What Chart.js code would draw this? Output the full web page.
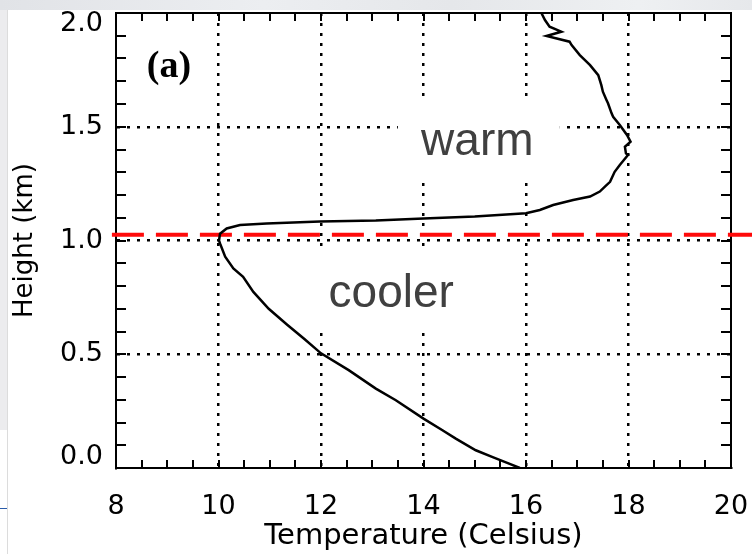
<!DOCTYPE html>
<html>
<head>
<meta charset="utf-8">
<title>Temperature profile</title>
<script src="https://cdn.jsdelivr.net/npm/chart.js@4.4.0/dist/chart.umd.min.js"></script>
<style>
  body { margin: 0; background: #fff; }
  #wrap { position: relative; width: 752px; height: 554px; overflow: hidden; }
  #topStrip { position: absolute; left: 0; top: 0; width: 752px; height: 10px;
    background: linear-gradient(90deg, #e1e3e7 0%, #eceef1 35%, #e5e7ea 60%, #eef0f2 85%, #e6e8eb 100%); }
  #sideStrip { position: absolute; left: 0; top: 10px; width: 7px; height: 420px; background: #ececee; }
  #sideRule { position: absolute; left: 7px; top: 10px; width: 1px; height: 544px; background: #dcdcdc; }
  #blueRule { position: absolute; left: 0; top: 508px; width: 7px; height: 1px; background: #2a5caa; }
  canvas { position: absolute; left: 0; top: 0; }
</style>
</head>
<body>
<div id="wrap">
  <div id="topStrip"></div>
  <div id="sideStrip"></div>
  <div id="sideRule"></div>
  <div id="blueRule"></div>
  <canvas id="profile" width="752" height="554"></canvas>
</div>
<script>
// sounding: temperature (deg C) against height (km), bottom to top
const tempC = [15.88, 15.67, 15.35, 15.02, 14.63, 14.37, 14.0, 13.46, 13.07, 12.54,
    12.0, 11.67, 11.34, 10.98, 10.68, 10.48, 10.29, 10.13, 10.03, 10.01, 10.03,
    10.16, 10.42, 10.94, 11.98, 13.07, 14.0, 15.0, 16.0, 16.27, 16.53,
    16.92, 17.25, 17.44, 17.54, 17.64, 17.73, 17.83, 17.99, 17.95, 17.93,
    18.04, 17.97, 17.83, 17.70, 17.67, 17.60, 17.57, 17.50, 17.47, 17.41,
    17.25, 17.05, 16.89, 16.85, 16.40, 16.69, 16.46, 16.37, 16.30];
const heightKm = [0.0, 0.019, 0.048, 0.078, 0.129, 0.166, 0.217, 0.298, 0.349, 0.43,
    0.504, 0.568, 0.63, 0.70, 0.774, 0.84, 0.877, 0.929, 0.987, 1.0, 1.03,
    1.053, 1.068, 1.075, 1.083, 1.088, 1.097, 1.105, 1.12, 1.134, 1.156,
    1.178, 1.193, 1.215, 1.237, 1.258, 1.302, 1.332, 1.376, 1.383, 1.412,
    1.434, 1.464, 1.508, 1.544, 1.559, 1.603, 1.618, 1.654, 1.683, 1.727,
    1.771, 1.815, 1.859, 1.874, 1.899, 1.918, 1.940, 1.969, 2.0];

// inversion base marker
const inversionKm = 1.025;
const inversionSpan = [7.92, 21.6];

// axis ticks
const xMajor = [8, 10, 12, 14, 16, 18, 20];
const yMajor = [0.0, 0.5, 1.0, 1.5, 2.0];

const regionText = ['warm', 'cooler'];

const profile = tempC.map((t, i) => ({ x: t, y: heightKm[i] }));
const inversion = inversionSpan.map(t => ({ x: t, y: inversionKm }));

const near = (a, b) => Math.abs(a - b) < 1e-6;
const isXMajor = v => xMajor.some(m => near(m, v));
const isYMajor = v => yMajor.some(m => near(m, v));

// fixed axis sizes so the plot box sits where it should
function fixBox(size) {
    return s => {
        if (s.isHorizontal()) s.height = size; else s.width = size;
        s.paddingLeft = s.paddingRight = s.paddingTop = s.paddingBottom = 0;
    };
}

// white patches with region names, inward ticks on all four sides, the box
const panelDecor = {
    id: 'panelDecor',
    beforeDatasetsDraw(chart, args, opts) {
        const { ctx, chartArea: a, scales: { x, y } } = chart;
        ctx.save();

        opts.regions.forEach(r => {
            const x0 = x.getPixelForValue(r.box[0]);
            const x1 = x.getPixelForValue(r.box[1]);
            const y0 = y.getPixelForValue(r.box[3]);
            const y1 = y.getPixelForValue(r.box[2]);
            ctx.fillStyle = '#fff';
            ctx.fillRect(x0, y0, x1 - x0, y1 - y0);
            ctx.fillStyle = '#404040';
            ctx.font = '46px "Liberation Sans", Arial, sans-serif';
            ctx.textAlign = 'center';
            ctx.textBaseline = 'alphabetic';
            ctx.fillText(r.text, x.getPixelForValue(r.at[0]), y.getPixelForValue(r.at[1]));
        });

        ctx.fillStyle = '#000';
        ctx.font = 'bold 38px "Liberation Serif", "Times New Roman", serif';
        ctx.textAlign = 'left';
        ctx.fillText(opts.panel.text, x.getPixelForValue(opts.panel.at[0]), y.getPixelForValue(opts.panel.at[1]));

        ctx.strokeStyle = '#000';
        ctx.lineWidth = 2;
        ctx.beginPath();
        x.ticks.forEach(t => {
            if (near(t.value, x.min) || near(t.value, x.max)) return;
            const px = Math.round(x.getPixelForValue(t.value));
            ctx.moveTo(px, a.bottom); ctx.lineTo(px, a.bottom - 8);
            ctx.moveTo(px, a.top); ctx.lineTo(px, a.top + 8);
        });
        y.ticks.forEach(t => {
            if (near(t.value, y.min) || near(t.value, y.max)) return;
            const py = Math.round(y.getPixelForValue(t.value));
            ctx.moveTo(a.left, py); ctx.lineTo(a.left + 10, py);
            ctx.moveTo(a.right, py); ctx.lineTo(a.right - 10, py);
        });
        ctx.stroke();
        ctx.strokeRect(a.left, a.top, a.right - a.left, a.bottom - a.top);
        ctx.restore();
    }
};

const tickFont = { family: '"DejaVu Sans", sans-serif', size: 27 };

new Chart(document.getElementById('profile'), {
    type: 'line',
    data: {
        datasets: [
            {
                label: 'Temperature',
                data: profile,
                borderColor: '#000',
                borderWidth: 2.5,
                pointRadius: 0,
                tension: 0,
                fill: false
            },
            {
                label: 'Inversion',
                data: inversion,
                borderColor: '#ff0a0a',
                borderWidth: 4,
                borderDash: [32, 12],
                pointRadius: 0,
                fill: false,
                clip: false
            }
        ]
    },
    plugins: [panelDecor],
    options: {
        responsive: false,
        animation: false,
        layout: { padding: { top: 13, right: 21, left: 0, bottom: 0 } },
        scales: {
            x: {
                type: 'linear',
                min: 8,
                max: 20,
                afterFit: fixBox(86),
                ticks: {
                    stepSize: 0.5,
                    autoSkip: false,
                    maxRotation: 0,
                    padding: 23,
                    color: '#000',
                    font: tickFont,
                    callback: v => isXMajor(v) ? String(v) : ''
                },
                grid: {
                    drawTicks: false,
                    lineWidth: 2.5,
                    color: c => (isXMajor(c.tick.value) && c.tick.value > 8 && c.tick.value < 20) ? '#000' : 'rgba(0,0,0,0)'
                },
                border: { display: true, color: '#000', width: 2, dash: [3, 7] },
                title: {
                    display: true,
                    text: 'Temperature (Celsius)',
                    color: '#000',
                    font: { family: '"DejaVu Sans", sans-serif', size: 29 },
                    padding: { top: 0, bottom: 0 }
                }
            },
            y: {
                type: 'linear',
                min: 0,
                max: 2,
                afterFit: fixBox(116),
                ticks: {
                    stepSize: 0.1,
                    autoSkip: false,
                    padding: 13,
                    color: '#000',
                    font: { family: '"DejaVu Sans", sans-serif', size: 27, lineHeight: 0.8 },
                    callback: v => {
                        if (!isYMajor(v)) return '';
                        const s = v.toFixed(1);
                        if (near(v, 2)) return ['', s];
                        if (near(v, 0)) return [s, ''];
                        return s;
                    }
                },
                grid: {
                    drawTicks: false,
                    lineWidth: 2.5,
                    color: c => (isYMajor(c.tick.value) && c.tick.value > 0.01 && c.tick.value < 1.99) ? '#000' : 'rgba(0,0,0,0)'
                },
                border: { display: true, color: '#000', width: 2, dash: [3, 7] },
                title: {
                    display: true,
                    text: 'Height (km)',
                    color: '#000',
                    font: { family: '"DejaVu Sans", sans-serif', size: 26 },
                    padding: { top: 10, bottom: 0 }
                }
            }
        },
        plugins: {
            legend: { display: false },
            tooltip: { enabled: false },
            panelDecor: {
                regions: [
                    { text: regionText[0], at: [15.05, 1.375], box: [13.5, 16.66, 1.257, 1.631] },
                    { text: regionText[1], at: [13.37, 0.709], box: [11.59, 15.3, 0.62, 0.958] }
                ],
                panel: { text: '(a)', at: [8.6, 1.72] }
            }
        }
    }
});
</script>
</body>
</html>
